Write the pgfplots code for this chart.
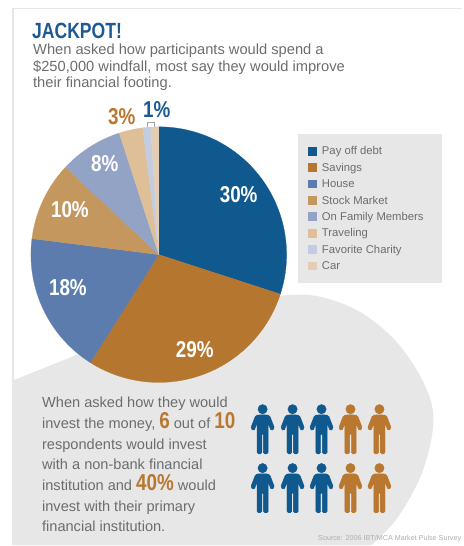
\documentclass[border=0pt]{standalone}
\usepackage{fontspec}
\setmainfont{Liberation Sans}
\newfontfamily\condbold[FakeStretch=0.82]{Liberation Sans Bold}
\newfontfamily\headbold[FakeStretch=0.8]{Liberation Sans Bold}
\usepackage{pgfplots}
\pgfplotsset{compat=1.18}

\definecolor{sliceA}{HTML}{10598F}
\definecolor{sliceB}{HTML}{B5762F}
\definecolor{sliceC}{HTML}{5B7CAD}
\definecolor{sliceD}{HTML}{C4975F}
\definecolor{sliceE}{HTML}{93A3C6}
\definecolor{sliceF}{HTML}{DFBF98}
\definecolor{sliceG}{HTML}{C3CDE1}
\definecolor{sliceH}{HTML}{E3CDB4}
\definecolor{panel}{HTML}{E7E7E8}
\definecolor{bodytext}{HTML}{6C6D70}
\definecolor{heading}{HTML}{1D5A94}
\definecolor{numeral}{HTML}{B9772F}

% person pictogram, centred at mid-height
\pgfdeclareplotmark{person}{%
  \fill (0,20.2pt) circle (4.7pt);
  \fill[rounded corners=1.4pt]
    (-4pt,14.5pt) -- (-7pt,14pt) -- (-12pt,1pt) -- (-8.6pt,-1.5pt) -- (-5.6pt,6pt)
    -- (-5.6pt,-24.5pt) -- (-0.8pt,-24.5pt) -- (-0.8pt,-4pt) -- (0.8pt,-4pt)
    -- (0.8pt,-24.5pt) -- (5.6pt,-24.5pt) -- (5.6pt,6pt) -- (8.6pt,-1.5pt)
    -- (12pt,1pt) -- (7pt,14pt) -- (4pt,14.5pt) -- cycle;
}

% one pie slice: start share, share, colour, legend text
\newcommand{\slice}[4]{%
  \addplot[fill=#3, draw=#3, line width=0.25pt, domain=#1:#1+#2, samples=60]
    ({159+128*sin(3.6*x)}, {255-128*cos(3.6*x)}) -- (axis cs:159,255) -- cycle;
  \addlegendentry{#4}
}

\begin{document}
\begin{tikzpicture}
\begin{axis}[
  width=463pt, height=546pt, scale only axis,
  xmin=0, xmax=463, ymin=0, ymax=546, y dir=reverse,
  axis lines=none, clip=false,
  legend cell align=left,
  legend style={
    at={(0.6652,0.7313)}, anchor=north west, draw=none, fill=none,
    font=\fontsize{11.3}{12}\selectfont\color{bodytext},
    row sep=6.3pt, column sep=6pt, inner sep=0pt,
    nodes={inner sep=0pt, text height=8pt, text depth=2pt},
  },
  legend image code/.code={\fill[#1] (0pt,-3pt) rectangle (8pt,5pt);},
]
  % picture extent
  \path (axis cs:0,0) rectangle (axis cs:463,546);

  % page frame
  \draw[panel, line width=1.6pt] (axis cs:13,546) -- (axis cs:13,8.5) -- (axis cs:463,8.5);

  % grey shape behind the pie and the lower text
  \addplot[smooth, tension=0.55, fill=panel, draw=none, forget plot] coordinates {
    (13,381) (95,348) (200,305) (282,296) (320,297) (360,312) (395,340)
    (420,375) (433,408) (432,440) (420,480) (397,520) (372,546)
  } -- (axis cs:13,546) -- cycle;

  % legend panel
  \fill[panel] (axis cs:298,134) rectangle (axis cs:443,283);

  % shares of the windfall
  \slice{0}{30}{sliceA}{Pay off debt}
  \slice{30}{29}{sliceB}{Savings}
  \slice{59}{18}{sliceC}{House}
  \slice{77}{10}{sliceD}{Stock Market}
  \slice{87}{8}{sliceE}{On Family Members}
  \slice{95}{3}{sliceF}{Traveling}
  \slice{98}{1}{sliceG}{Favorite Charity}
  \slice{99}{1}{sliceH}{Car}

  % ten respondents, five per row
  \addplot[only marks, mark=person, color=sliceA, forget plot] coordinates {
    (263,430) (293,430) (322,430) (263,489) (293,489) (322,489)};
  \addplot[only marks, mark=person, color=numeral, forget plot] coordinates {
    (351,430) (380,430) (351,489) (380,489)};

  % slice labels
  \def\lab#1#2#3#4{\node[text=#1, font=\fontsize{23}{23}\condbold, inner sep=0pt] at (axis cs:#2,#3) {#4};}
  \lab{white}{239}{195}{30\%}
  \lab{white}{195}{350}{29\%}
  \lab{white}{68}{288}{18\%}
  \lab{white}{70}{210}{10\%}
  \lab{white}{105}{164}{8\%}
  \lab{numeral}{122}{117}{3\%}
  \lab{heading}{157}{110}{1\%}
  \draw[black!35, fill=white, line width=0.6pt] (axis cs:148,127.5) -- (axis cs:148,122) -- (axis cs:155,122) -- (axis cs:155,127.5);

  % heading and introduction
  \node[anchor=base west, inner sep=0pt, text=heading, font=\fontsize{22}{22}\headbold] at (axis cs:32,39) {JACKPOT!};
  \def\intro#1#2{\node[anchor=base west, inner sep=0pt, text=bodytext, font=\fontsize{14.7}{16}\selectfont] at (axis cs:33,#1) {#2};}
  \intro{55}{When asked how participants would spend a}
  \intro{72}{\$250,000 windfall, most say they would improve}
  \intro{88}{their financial footing.}

  % lower text
  \def\bignum#1{{\color{numeral}\fontsize{23}{23}\condbold #1}}
  \def\low#1#2{\node[anchor=base west, inner sep=0pt, text=bodytext, font=\fontsize{14.6}{16}\selectfont] at (axis cs:42,#1) {#2};}
  \low{408}{When asked how they would}
  \low{429}{invest the money, \bignum{6} out of \bignum{10}}
  \low{450}{respondents would invest}
  \low{470}{with a non-bank financial}
  \low{491}{institution and \bignum{40\%} would}
  \low{512}{invest with their primary}
  \low{532}{financial institution.}

  \node[anchor=base east, inner sep=0pt, text=black!32, font=\fontsize{7.2}{8}\selectfont] at (axis cs:462,541) {Source: 2006 IBT/MCA Market Pulse Survey};
\end{axis}
\end{tikzpicture}
\end{document}
